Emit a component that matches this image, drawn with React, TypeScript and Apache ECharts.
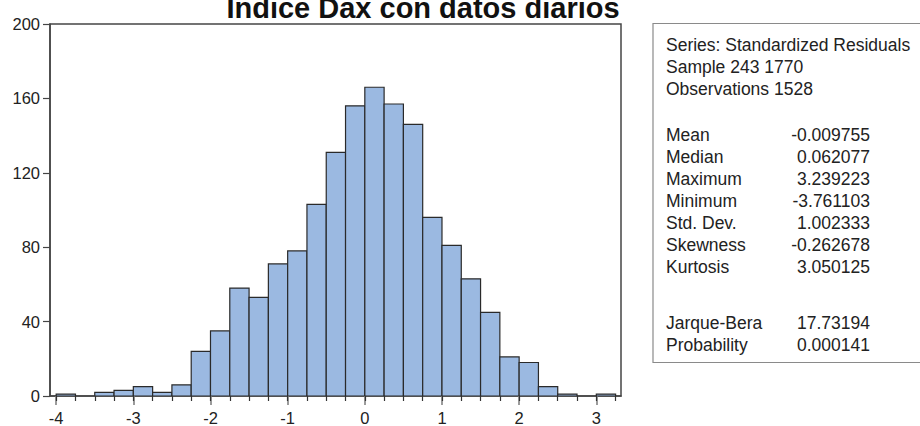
import React, { useEffect, useRef } from "react";
import * as echarts from "echarts";

// Histogram of standardized residuals: bins of width 0.25
const binStarts = [
  -4, -3.75, -3.5, -3.25, -3, -2.75, -2.5, -2.25, -2, -1.75, -1.5, -1.25, -1, -0.75, -0.5,
  -0.25, 0, 0.25, 0.5, 0.75, 1, 1.25, 1.5, 1.75, 2, 2.25, 2.5, 2.75, 3,
];
const binWidth = 0.25;
const counts = [
  1, 0, 2, 3, 5, 2, 6, 24, 35, 58, 53, 71, 78, 103, 131, 156, 166, 157, 146, 96, 81, 63, 45,
  21, 18, 5, 1, 0, 1,
];

const xMajorTicks = [-4, -3, -2, -1, 0, 1, 2, 3];
const xMinorTicks = [
  -4, -3.75, -3.5, -3.25, -3, -2.75, -2.5, -2.25, -2, -1.75, -1.5, -1.25, -1, -0.75, -0.5,
  -0.25, 0, 0.25, 0.5, 0.75, 1, 1.25, 1.5, 1.75, 2, 2.25, 2.5, 2.75, 3, 3.25,
];
const yTicks = [0, 40, 80, 120, 160, 200];

const titleText = "Indice Dax con datos diarios";
const headerLines = ["Series: Standardized Residuals", "Sample 243 1770", "Observations 1528"];
const statLabels = ["Mean", "Median", "Maximum", "Minimum", "Std. Dev.", "Skewness", "Kurtosis"];
const statValues = ["-0.009755", "0.062077", "3.239223", "-3.761103", "1.002333", "-0.262678", "3.050125"];
const testLabels = ["Jarque-Bera", "Probability"];
const testValues = ["17.73194", "0.000141"];

const FONT = "'Liberation Sans', Arial, Helvetica, sans-serif";
const TEXT_COLOR = "#222";
const BAR_FILL = "#9bb9e1";
const BAR_STROKE = "#2a2a2a";
const FRAME = "#454545";

export default function App() {
  const ref = useRef<HTMLDivElement>(null);

  useEffect(() => {
    if (!ref.current) return;
    const chart = echarts.init(ref.current, null, { renderer: "svg" });

    const histData = binStarts.map((s, i) => [s, s + binWidth, counts[i]]);

    // statistics panel on the right
    const panelFont = { fontFamily: FONT, fontSize: 17.5, fill: TEXT_COLOR };
    const headerY = [44.5, 66.5, 88.5];
    const statY = [134.5, 156.5, 178.5, 200.5, 222.5, 244.5, 266.5];
    const testY = [323, 345];
    const labelX = 666;
    const valueX = 870;
    const panelTexts: any[] = [];
    const addText = (t: string, x: number, y: number, align: string) =>
      panelTexts.push({
        type: "text",
        x,
        y,
        style: { ...panelFont, text: t, textAlign: align, textVerticalAlign: "middle" },
      });
    headerLines.forEach((t, i) => addText(t, labelX, headerY[i], "left"));
    statLabels.forEach((t, i) => {
      addText(t, labelX, statY[i], "left");
      addText(statValues[i], valueX, statY[i], "right");
    });
    testLabels.forEach((t, i) => {
      addText(t, labelX, testY[i], "left");
      addText(testValues[i], valueX, testY[i], "right");
    });

    const xMin = -4.08;
    const xMax = 3.32;

    chart.setOption({
      animation: false,
      backgroundColor: "#ffffff",
      grid: {
        left: 50,
        right: 299,
        top: 24,
        bottom: 26.5,
        show: true,
        borderColor: FRAME,
        borderWidth: 1.5,
        backgroundColor: "transparent",
      },
      xAxis: [
        {
          type: "value",
          min: xMin,
          max: xMax,
          position: "bottom",
          splitLine: { show: false },
          axisLine: { show: true, onZero: false, lineStyle: { color: FRAME, width: 1.5 } },
          axisTick: {
            show: true,
            customValues: xMajorTicks,
            length: 9,
            lineStyle: { color: "#7a7a7a", width: 1.5 },
          },
          axisLabel: {
            show: true,
            customValues: xMajorTicks,
            margin: 13,
            color: TEXT_COLOR,
            fontFamily: FONT,
            fontSize: 16.5,
            formatter: (v: number) => String(v),
          },
        },
        {
          type: "value",
          min: xMin,
          max: xMax,
          position: "bottom",
          splitLine: { show: false },
          axisLine: { show: false, onZero: false },
          axisTick: {
            show: true,
            customValues: xMinorTicks,
            length: 5,
            lineStyle: { color: "#333", width: 1.2 },
          },
          axisLabel: { show: false },
        },
      ],
      yAxis: {
        type: "value",
        min: 0,
        max: 200,
        interval: 40,
        position: "left",
        splitLine: { show: false },
        axisLine: { show: true, onZero: false, lineStyle: { color: FRAME, width: 1.5 } },
        axisTick: {
          show: true,
          customValues: yTicks,
          length: 7,
          lineStyle: { color: FRAME, width: 1.2 },
        },
        axisLabel: {
          customValues: yTicks,
          margin: 10,
          color: TEXT_COLOR,
          fontFamily: FONT,
          fontSize: 16.5,
        },
      },
      series: [
        {
          type: "custom",
          xAxisIndex: 0,
          yAxisIndex: 0,
          clip: true,
          encode: { x: [0, 1], y: 2 },
          data: histData,
          renderItem: (params: any, api: any) => {
            const x0 = api.value(0);
            const x1 = api.value(1);
            const c = api.value(2);
            if (!c) return null;
            const top = api.coord([x0, c]);
            const bottom = api.coord([x1, 0]);
            return {
              type: "rect",
              shape: {
                x: top[0],
                y: top[1],
                width: bottom[0] - top[0],
                height: bottom[1] - top[1],
              },
              style: { fill: BAR_FILL, stroke: BAR_STROKE, lineWidth: 1.2 },
            };
          },
        },
      ],
      graphic: [
        {
          type: "text",
          x: 423,
          y: 8,
          style: {
            text: titleText,
            fontFamily: FONT,
            fontWeight: "bold",
            fontSize: 29,
            fill: "#111",
            textAlign: "center",
            textVerticalAlign: "middle",
          },
        },
        {
          type: "rect",
          shape: { x: 653, y: 23.5, width: 280, height: 339 },
          style: { fill: "none", stroke: "#8a8a8a", lineWidth: 1.2 },
        },
        ...panelTexts,
      ],
    });

    return () => chart.dispose();
  }, []);

  return (
    <div
      ref={ref}
      style={{ position: "fixed", left: 0, top: 0, width: 920, height: 426, background: "#fff" }}
    />
  );
}
